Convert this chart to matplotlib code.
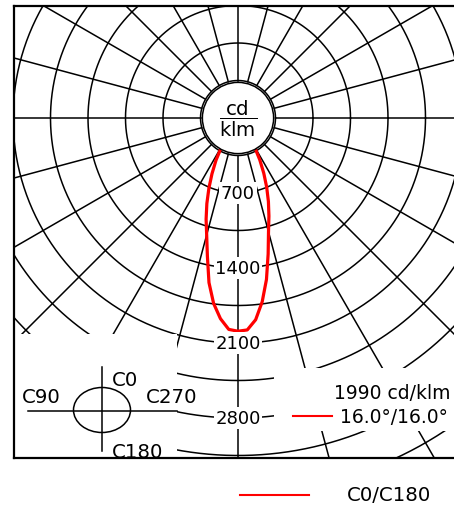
import matplotlib.pyplot as plt
import numpy as np
from matplotlib.patches import Circle, Ellipse, Rectangle
from matplotlib.lines import Line2D

# luminous intensity (cd/klm) against gamma angle, two half planes
gamma = np.array([0, 2.5, 5, 7.5, 10, 12.5, 15, 17.5, 20, 22.5, 25, 27.5, 30, 35, 40, 50, 60, 75, 90])
c0 = np.array([1990, 1980, 1890, 1730, 1530, 1300, 1100, 960, 830, 700, 570, 440, 300, 170, 90, 35, 15, 5, 0])
c180 = np.array([1990, 1975, 1880, 1745, 1560, 1320, 1130, 990, 850, 710, 575, 445, 300, 170, 90, 35, 15, 5, 0])

ring_step = 350
ring_labels = [700, 1400, 2100, 2800]
peak_text = "1990 cd/klm"
beam_text = "16.0°/16.0°"
curve_name = "C0/C180"

plt.rcParams['font.family'] = 'DejaVu Sans'
plt.rcParams['mathtext.fontset'] = 'dejavusans'
FS = 13     # numbers
FT = 14.2   # words
FR = 13.5   # texts at the right edge

W, H = 454, 506
px = ring_step / 37.5      # cd/klm per pixel
cx, cy = 238, 119          # pole of the diagram in pixels
x0, x1, y_top, y_bot = 13.5, 462, 6.5, 459

def P(x, y):
    return ((x - cx) * px, (cy - y) * px)

fig = plt.figure(figsize=(W / 100, H / 100), dpi=100)
ax = fig.add_axes([x0 / W, 1 - y_bot / H, (x1 - x0) / W, (y_bot - y_top) / H])
ax.set_xlim((x0 - cx) * px, (x1 - cx) * px)
ax.set_ylim((cy - y_bot) * px, (cy - y_top) * px)
ax.set_xticks([])
ax.set_yticks([])
for s in ['left', 'top', 'bottom']:
    ax.spines[s].set_linewidth(1.6)
ax.spines['right'].set_visible(False)

## polar grid
theta = np.linspace(0, 2 * np.pi, 721)
for k in range(1, 16):
    r = k * ring_step
    ax.plot(r * np.cos(theta), r * np.sin(theta), color='k', lw=1.1, zorder=1)
for a in np.arange(0, 360, 15):
    t = np.radians(a)
    ax.plot([ring_step * np.cos(t), 6000 * np.cos(t)], [ring_step * np.sin(t), 6000 * np.sin(t)],
            color='k', lw=1.1, zorder=1)

## intensity curve
g = np.radians(gamma)
xs = np.concatenate([(-c180 * np.sin(g))[::-1], c0 * np.sin(g)])
ys = np.concatenate([(-c180 * np.cos(g))[::-1], -c0 * np.cos(g)])
ax.plot(xs, ys, color='#ff0000', lw=2.3, zorder=3, solid_joinstyle='round')

## centre disc with unit
ax.add_patch(Circle((0, 0), ring_step * 0.95, fc='white', ec='k', lw=1.1, zorder=4))
ax.text(0, 0, r'$\dfrac{\mathrm{cd}}{\mathrm{klm}}$', ha='center', va='center', fontsize=FT, zorder=5)

for v in ring_labels:
    ax.text(0, -v, str(v), ha='center', va='center', fontsize=FS, zorder=5,
            bbox=dict(boxstyle='square,pad=0.1', fc='white', ec='none'))

## white boxes for the legends inside the frame
lx, ly = P(x0, 335)
rx, ry = P(177, y_bot + 5)
ax.add_patch(Rectangle((lx, ry), rx - lx, ly - ry, fc='white', ec='none', zorder=2))
lx, ly = P(274, 369)
rx, ry = P(x1 + 5, 432)
ax.add_patch(Rectangle((lx, ry), rx - lx, ly - ry, fc='white', ec='none', zorder=2))

## C-plane symbol
ax.add_patch(Ellipse(P(102, 411), 57 * px, 45 * px, fill=False, ec='k', lw=1.1, zorder=6))
ax.plot(*zip(P(28, 412), P(177, 412)), color='k', lw=1.1, zorder=6)
ax.plot(*zip(P(102, 368), P(102, 452)), color='k', lw=1.1, zorder=6)
ax.text(*P(112, 381), "C0", ha='left', va='center', fontsize=FT, zorder=6)
ax.text(*P(22, 397.5), "C90", ha='left', va='center', fontsize=FT, zorder=6)
ax.text(*P(146, 397.5), "C270", ha='left', va='center', fontsize=FT, zorder=6)
ax.text(*P(112, 453), "C180", ha='left', va='center', fontsize=FT, zorder=6, clip_on=True)

## peak value and beam angle
ax.text(*P(334, 393.5), peak_text, ha='left', va='center', fontsize=FR, zorder=6)
ax.plot(*zip(P(293, 417), P(332, 417)), color='#ff0000', lw=1.5, zorder=6)
ax.text(*P(340, 417.5), beam_text, ha='left', va='center', fontsize=FR, zorder=6)

## legend below the diagram
fig.add_artist(Line2D([240 / W, 309 / W], [1 - 496 / H, 1 - 496 / H], color='#ff0000', lw=1.5))
fig.text(347 / W, 1 - 496 / H, curve_name, ha='left', va='center', fontsize=FT)

fig.savefig('out.png', dpi=100)
